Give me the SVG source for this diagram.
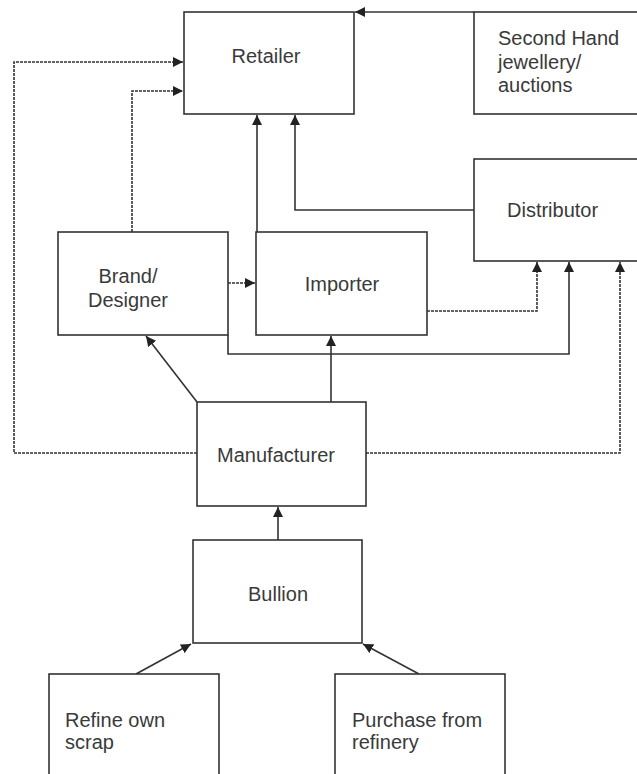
<svg xmlns="http://www.w3.org/2000/svg" width="637" height="774" viewBox="0 0 637 774">
<style>
.box{fill:#fff;stroke:#333;stroke-width:1.6}
.lbl{font-family:"Liberation Sans",Arial,sans-serif;font-size:20px;fill:#3a3a3a}
.c{fill:none;stroke:#333;stroke-width:1.6}
.d{stroke-dasharray:3 1}
</style>
<defs>
<marker id="ah" viewBox="0 0 10 10" refX="10" refY="5" markerWidth="10" markerHeight="10" orient="auto" markerUnits="userSpaceOnUse"><path d="M0,0 L10,5 L0,10 z" fill="#222"/></marker>
</defs>
<rect width="637" height="774" fill="#fff"/>
<g id="connectors">
<path class="c" d="M474,12 H355" marker-end="url(#ah)"/>
<path class="c d" d="M197,453 H14 V62 H183" marker-end="url(#ah)"/>
<path class="c d" d="M132,232 V91 H183" marker-end="url(#ah)"/>
<path class="c" d="M257,232 V115" marker-end="url(#ah)"/>
<path class="c" d="M474,210 H295 V115" marker-end="url(#ah)"/>
<path class="c d" d="M228,283 H255" marker-end="url(#ah)"/>
<path class="c d" d="M427,311 H537 V262" marker-end="url(#ah)"/>
<path class="c" d="M228,335 V354 H569 V262" marker-end="url(#ah)"/>
<path class="c d" d="M366,453 H620 V262" marker-end="url(#ah)"/>
<path class="c" d="M197,402 L146,336" marker-end="url(#ah)"/>
<path class="c" d="M331,402 V336" marker-end="url(#ah)"/>
<path class="c" d="M278,540 V507" marker-end="url(#ah)"/>
<path class="c" d="M136,674 L191,644" marker-end="url(#ah)"/>
<path class="c" d="M419,674 L363,644" marker-end="url(#ah)"/>
</g>
<g id="retailer"><rect class="box" x="184" y="12" width="170" height="102"/><text class="lbl" x="266" y="63" text-anchor="middle">Retailer</text></g>
<g id="second-hand"><rect class="box" x="474" y="12" width="170" height="102"/><text class="lbl" x="498" y="45">Second Hand</text><text class="lbl" x="498" y="69">jewellery/</text><text class="lbl" x="498" y="92">auctions</text></g>
<g id="distributor"><rect class="box" x="474" y="159" width="170" height="102"/><text class="lbl" x="507" y="217">Distributor</text></g>
<g id="brand"><rect class="box" x="58" y="232" width="170" height="103"/><text class="lbl" x="128" y="283" text-anchor="middle">Brand/</text><text class="lbl" x="128" y="307" text-anchor="middle">Designer</text></g>
<g id="importer"><rect class="box" x="256" y="232" width="171" height="103"/><text class="lbl" x="342" y="291" text-anchor="middle">Importer</text></g>
<g id="manufacturer"><rect class="box" x="197" y="402" width="169" height="104"/><text class="lbl" x="276" y="462" text-anchor="middle">Manufacturer</text></g>
<g id="bullion"><rect class="box" x="193" y="540" width="169" height="103"/><text class="lbl" x="278" y="601" text-anchor="middle">Bullion</text></g>
<g id="refine"><rect class="box" x="49" y="674" width="170" height="110"/><text class="lbl" x="65" y="727">Refine own</text><text class="lbl" x="65" y="749">scrap</text></g>
<g id="purchase"><rect class="box" x="335" y="674" width="170" height="110"/><text class="lbl" x="352" y="727">Purchase from</text><text class="lbl" x="352" y="749">refinery</text></g>
</svg>
